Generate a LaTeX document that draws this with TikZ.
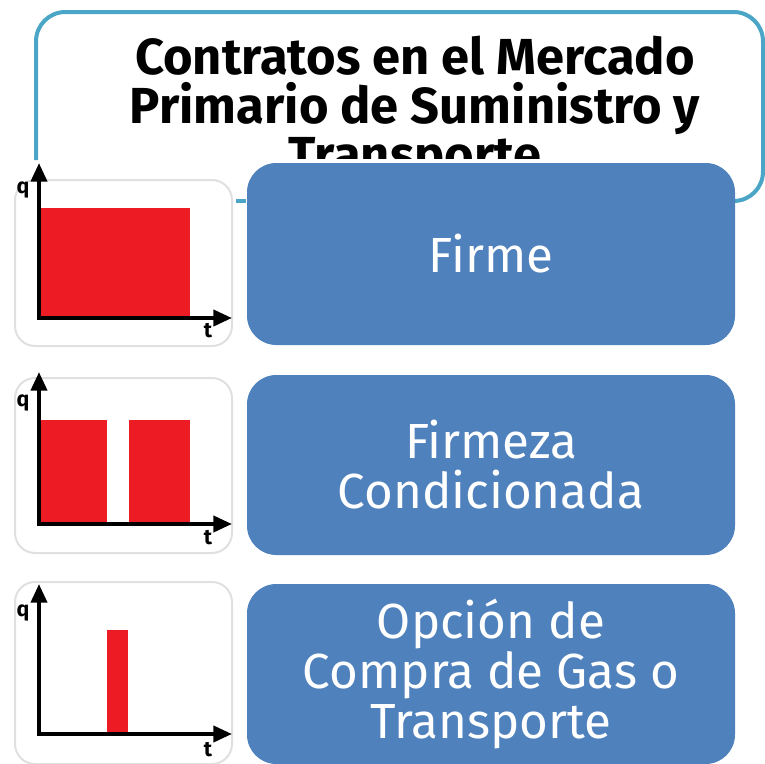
\documentclass[tikz,border=0pt]{standalone}
\usepackage{fontspec}
\setmainfont{Fira Sans}
\usepackage{tikz}
\usetikzlibrary{calc}
\usetikzlibrary{positioning}
\usetikzlibrary{arrows.meta}

\definecolor{marco}{RGB}{75,165,198}
\definecolor{caja}{RGB}{79,129,189}
\definecolor{barra}{RGB}{237,28,36}

\tikzset{
  cajaazul/.style={fill=caja, rounded corners=22pt, text=white, align=center,
    minimum width=366pt, font=\fontsize{37}{37.5}\selectfont},
  panel/.style={fill=white, draw=black!12, line width=1.5pt, rounded corners=15pt},
  eje/.style={line width=3pt, -{Triangle[length=14pt,width=12pt]}},
  etiq/.style={inner sep=0.75pt, font=\fontsize{16}{16}\selectfont\bfseries},
}

\begin{document}
\begin{tikzpicture}[x=0.75pt,y=0.75pt,yscale=-1,xscale=1]
            \useasboundingbox (0,0) rectangle (765,764);

            %Shape: Rounded Rect [id:titulo marco]
            \draw [marco, line width=3pt, rounded corners=22pt] (36,160) -- (36,12) -- (763,12) -- (763,201) -- (720,201) ;
            \draw [marco, line width=3pt] (236,201) -- (246,201) ;

            % Text Node
            \begin{scope}
            \clip (0,0) rectangle (765,158);
            \node (titulo) at (415,110) [align=center, font=\fontsize{38}{37}\selectfont\bfseries] {Contratos en el Mercado\\Primario de Suministro y\\Transporte};
            \end{scope}

            %Shape: Rounded Rect [id:firme]
            \node (firme) [cajaazul, minimum height=136.5pt] at (491,254) {Firme};
            %Shape: Rounded Rect [id:firmeza]
            \node (firmeza) [cajaazul, minimum height=135pt] at (491,465) {Firmeza\\Condicionada};
            %Shape: Rounded Rect [id:opcion]
            \node (opcion) [cajaazul, minimum height=135pt] at (491,674) {Opción de\\Compra de Gas o\\Transporte};

            %Shape: Panel [id:grafico firme]
            \draw [panel] (15,180) rectangle (232,346) ;
            \fill [barra] (40,208) rectangle (190,316) ;
            \draw [eje] (39,318) -- (39,163) ;
            \draw [eje] (37,318) -- (232,318) ;
            \node (q1) [etiq] at (23,190) {q};
            \node (t1) [etiq] at (208,331) {t};

            %Shape: Panel [id:grafico firmeza]
            \draw [panel] (15,378) rectangle (232,553) ;
            \fill [barra] (40,420) rectangle (107,522) ;
            \fill [barra] (129,420) rectangle (190,522) ;
            \draw [eje] (39,524) -- (39,372) ;
            \draw [eje] (37,524) -- (232,524) ;
            \node (q2) [etiq] at (23,403) {q};
            \node (t2) [etiq] at (208,538) {t};

            %Shape: Panel [id:grafico opcion]
            \draw [panel] (15,582) rectangle (232,764) ;
            \fill [barra] (107,630) rectangle (128,733) ;
            \draw [eje] (39,734) -- (39,584) ;
            \draw [eje] (37,734) -- (232,734) ;
            \node (q3) [etiq] at (23,613) {q};
            \node (t3) [etiq] at (208,750) {t};

\end{tikzpicture}
\end{document}
